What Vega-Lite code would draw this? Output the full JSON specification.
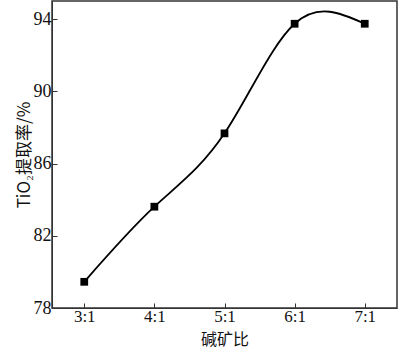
{
  "$schema": "https://vega.github.io/schema/vega-lite/v6.json",
  "autosize": "none",
  "width": 345,
  "height": 307,
  "padding": {"left": 52, "top": 1, "right": 3, "bottom": 42},
  "background": "white",
  "config": {
    "view": {"stroke": "#333333", "strokeWidth": 1.5},
    "axis": {"labelFont": "Liberation Serif", "titleFont": "Liberation Serif", "labelColor": "#111", "titleColor": "#111", "domainColor": "#333", "tickColor": "#333", "grid": false}
  },
  "data": {"values": [
    {"ratio": "3:1", "rate": 79.45},
    {"ratio": "4:1", "rate": 83.61},
    {"ratio": "5:1", "rate": 87.67},
    {"ratio": "6:1", "rate": 93.74},
    {"ratio": "7:1", "rate": 93.74}
  ]},
  "encoding": {
    "x": {"field": "ratio", "type": "ordinal", "sort": null,
      "scale": {"type": "point", "padding": 0.46},
      "axis": {"title": "碱矿比", "titleFont": "Noto Sans CJK SC", "titleFontSize": 16, "titleFontWeight": "normal", "titlePadding": 7, "labelFontSize": 17, "labelAngle": 0, "tickSize": -5, "tickWidth": 1, "labelPadding": 5, "domain": true}},
    "y": {"field": "rate", "type": "quantitative",
      "scale": {"domain": [78, 95], "nice": false, "zero": false},
      "axis": {"title": "TiO₂提取率/%", "titleFont": "Noto Sans CJK SC", "titleFontSize": 17, "titleFontWeight": "normal", "titlePadding": 0, "labelFontSize": 18, "values": [78, 82, 86, 90, 94], "tickSize": -5, "tickWidth": 1, "labelPadding": 6}}
  },
  "layer": [
    {"mark": {"type": "line", "interpolate": "natural", "color": "black", "strokeWidth": 1.8}},
    {"mark": {"type": "square", "color": "black", "filled": true, "opacity": 1, "size": 60}}
  ]
}
